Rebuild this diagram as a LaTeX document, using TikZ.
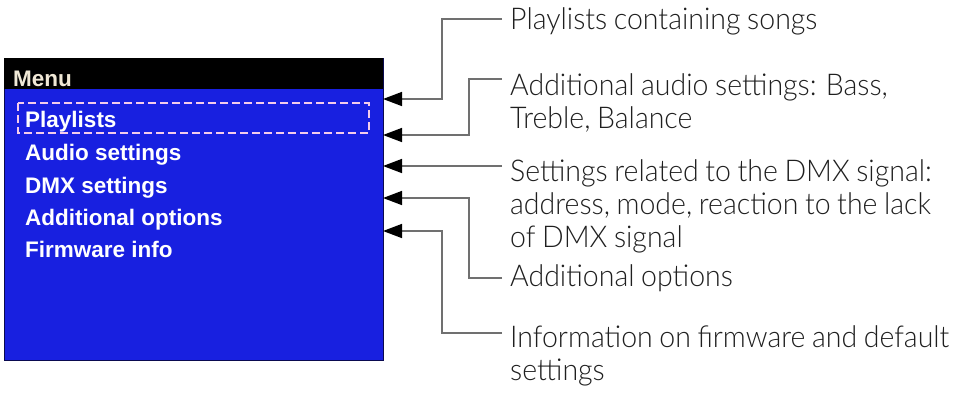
\documentclass[tikz,border=0pt]{standalone}
\usepackage{fontspec}
\setmainfont{Lato Light}[FakeStretch=0.95, WordSpace=0.85]
\newfontfamily\screenfont{Liberation Sans}
\usetikzlibrary{arrows.meta}

\definecolor{lcdblue}{RGB}{24,32,224}
\definecolor{lcdedge}{RGB}{10,10,80}
\definecolor{menucream}{RGB}{240,232,214}
\definecolor{focuspink}{RGB}{245,205,235}
\definecolor{linegray}{RGB}{112,112,112}

\begin{document}
\begin{tikzpicture}[x=1pt, y=-1pt,
    screen/.style={rectangle, fill=lcdblue, draw=lcdedge, line width=1pt, inner sep=0pt, anchor=north west},
    bar/.style={rectangle, fill=black, inner sep=0pt, anchor=north west},
    item/.style={anchor=base west, inner sep=0pt, text=white, font=\screenfont\bfseries\fontsize{22.5}{22.5}\selectfont},
    focus/.style={draw=focuspink, line width=2pt, dash pattern=on 8pt off 4pt},
    desc/.style={anchor=north west, inner sep=0pt, align=left, text=black!88, font=\fontsize{30}{33}\selectfont},
    conn/.style={draw=linegray, line width=1.5pt, -{Triangle[length=19pt, width=14pt, color=black]}}
]
\useasboundingbox (0,0) rectangle (967,392);

% LCD screen with the menu
\node[screen, minimum width=379pt, minimum height=302pt] (screen) at (4,58) {};
\node[bar, minimum width=379pt, minimum height=31pt] (bar) at (screen.north west) {};
\node[item, text=menucream] (menu) at (13,86) {Menu};
\draw[focus] (18,103) rectangle (369,133);
\node[item] (playlists) at (25,127) {Playlists};
\node[item] (audio) at (25,160) {Audio settings};
\node[item] (dmx) at (25,193) {DMX settings};
\node[item] (options) at (25,225) {Additional options};
\node[item] (firmware) at (25,257) {Firmware info};

% arrow tips on the screen edge
\coordinate (tip1) at (383,99);
\coordinate (tip2) at (383,135);
\coordinate (tip3) at (383,166);
\coordinate (tip4) at (383,198);
\coordinate (tip5) at (383,231);

% descriptions
\node[desc] (d1) at (510,7) {Playlists containing songs};
\node[desc] (d2) at (510,73) {Additional audio settings: Bass,\\Treble, Balance};
\node[desc] (d3) at (510,159) {Settings related to the DMX signal:\\address, mode, reaction to the lack\\of DMX signal};
\node[desc] (d4) at (510,264) {Additional options};
\node[desc] (d5) at (510,325) {Information on firmware and default\\settings};

% connectors
\draw[conn] ([xshift=-8pt, yshift=-12pt]d1.north west) -| ([xshift=59pt]tip1) -- (tip1);
\draw[conn] ([xshift=-8pt, yshift=-6pt]d2.north west) -| ([xshift=86pt]tip2) -- (tip2);
\draw[conn] ([xshift=-8pt, yshift=-7pt]d3.north west) -- (tip3);
\draw[conn] ([xshift=-8pt, yshift=-14pt]d4.north west) -| ([xshift=86pt]tip4) -- (tip4);
\draw[conn] ([xshift=-8pt, yshift=-8pt]d5.north west) -| ([xshift=59pt]tip5) -- (tip5);

\end{tikzpicture}
\end{document}
